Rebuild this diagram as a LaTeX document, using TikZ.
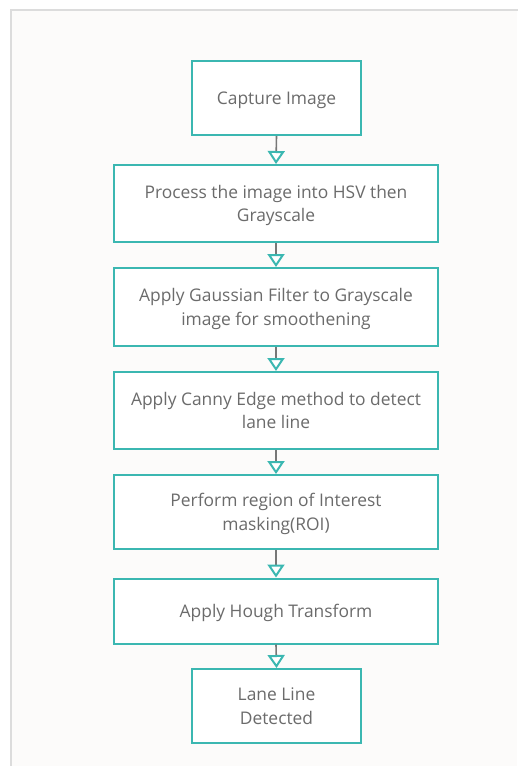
\documentclass[tikz,border=0pt]{standalone}
\usepackage{fontspec}
\setmainfont{Open Sans}
\usetikzlibrary{arrows.meta}
\definecolor{teal1}{HTML}{3BB7B1}
\definecolor{txtgray}{HTML}{6B6B6B}
\definecolor{linegray}{HTML}{777777}
\definecolor{bgpaper}{HTML}{FCFBFA}
\definecolor{framegray}{HTML}{DCDCDC}
\tikzset{
  stepbox/.style={draw=teal1, line width=2pt, fill=white, text=txtgray,
    font=\fontsize{17.4}{23.5}\selectfont, align=center, inner sep=0pt, text depth=0pt},
  flowarrow/.style={draw=linegray, line width=1.6pt,
    -{Triangle[open, length=13pt, width=17pt, line width=2pt, color=teal1, fill=white]}},
}
\begin{document}
\begin{tikzpicture}[x=1pt,y=-1pt]
\useasboundingbox (0,0) rectangle (517,766);
\fill[white] (0,0) rectangle (517,766);
\fill[bgpaper] (11,10) rectangle (517,766);
\draw[framegray, line width=2pt] (11,770) -- (11,10) -- (520,10);
\node[stepbox, minimum width=169pt, minimum height=74pt] (n1) at (276.5,98) {Capture Image};
\node[stepbox, minimum width=324pt, minimum height=77pt] (n2) at (276,203.5) {Process the image into HSV then\\Grayscale};
\node[stepbox, minimum width=324pt, minimum height=78pt] (n3) at (276,307) {Apply Gaussian Filter to Grayscale\\image for smoothening};
\node[stepbox, minimum width=324pt, minimum height=77pt] (n4) at (276,410.5) {Apply Canny Edge method to detect\\lane line};
\node[stepbox, minimum width=324pt, minimum height=74pt] (n5) at (276,512) {Perform region of Interest\\masking(ROI)};
\node[stepbox, minimum width=324pt, minimum height=65pt] (n6) at (276,611) {Apply Hough Transform};
\node[stepbox, minimum width=169pt, minimum height=74pt] (n7) at (276.5,706) {Lane Line\\Detected};
\foreach \a/\b in {n1/n2,n2/n3,n3/n4,n4/n5,n5/n6,n6/n7}{
  \draw[flowarrow] (\a.south) -- (\b.north);
}
\end{tikzpicture}
\end{document}
